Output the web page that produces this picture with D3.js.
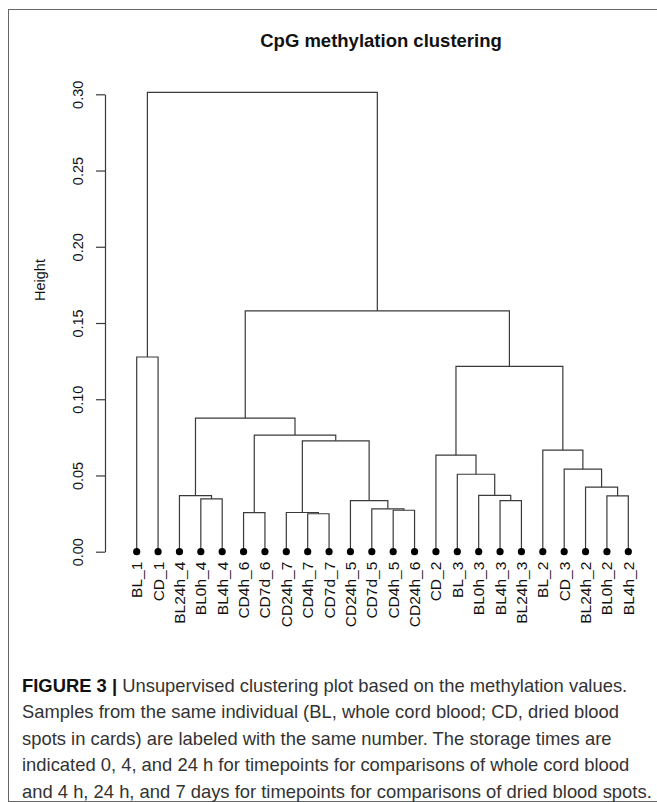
<!DOCTYPE html>
<meta charset="utf-8">
<script src="https://d3js.org/d3.v7.min.js"></script>
<style>
  body { margin: 0; background: #fff; }
  text { font-family: "Liberation Sans", Arial, sans-serif; }
</style>
<div id="chart"></div>
<script>

var width = 657, height = 802;

// leaf labels, left to right as drawn
var labels = ["BL_1", "CD_1", "BL24h_4", "BL0h_4", "BL4h_4", "CD4h_6", "CD7d_6",
  "CD24h_7", "CD4h_7", "CD7d_7", "CD24h_5", "CD7d_5", "CD4h_5", "CD24h_6",
  "CD_2", "BL_3", "BL0h_3", "BL4h_3", "BL24h_3", "BL_2", "CD_3", "BL24h_2", "BL0h_2", "BL4h_2"];

// hclust style merges: negative = leaf (1-based), positive = earlier merge step
var merges = [
  [-9, -10], [-6, -7], [-8, 1], [-13, -14], [-12, 4], [-11, 5], [-18, -19], [-4, -5],
  [-23, -24], [-3, 8], [-17, 7], [-22, 9], [-16, 11], [-21, 12], [-15, 13], [-20, 14],
  [3, 6], [2, 17], [10, 18], [15, 16], [-1, -2], [19, 20], [21, 22]
];
var mergeHeights = [
  0.0249, 0.0256, 0.0257, 0.0272, 0.0281, 0.0335, 0.0335, 0.0346,
  0.0366, 0.0368, 0.0370, 0.0423, 0.0508, 0.0541, 0.0633, 0.0666,
  0.0727, 0.0765, 0.0876, 0.1216, 0.1277, 0.1580, 0.3013
];

var yTicks = [0, 0.05, 0.10, 0.15, 0.20, 0.25, 0.30];

var title = "CpG methylation clustering";
var yLabel = "Height";

var svg = d3.select("#chart")
  .append("svg")
  .attr("width", width)
  .attr("height", height);

// figure frame
svg.append("rect")
  .attr("x", 8.5).attr("y", 9.5)
  .attr("width", 660).attr("height", 792)
  .attr("fill", "none")
  .attr("stroke", "#666")
  .attr("stroke-width", 1);

// build nested tree from the merge table
var steps = [];
merges.forEach(function(m, i) {
  var kids = m.map(function(k) {
    if (k < 0) return { name: labels[-k - 1], h: 0 };
    return steps[k - 1];
  });
  steps.push({ h: mergeHeights[i], children: kids });
});
var root = d3.hierarchy(steps[steps.length - 1]);

var x = d3.scalePoint()
  .domain(labels)
  .range([136.7, 628.3]);

var y = d3.scaleLinear()
  .domain([0, 0.30])
  .range([551.7, 94.3]);

// leaf x = label position, node x = midpoint of its children
root.eachAfter(function(d) {
  if (!d.children) d.px = x(d.data.name);
  else d.px = (d.children[0].px + d.children[1].px) / 2;
});

var links = root.descendants().filter(function(d) { return d.children; });

svg.append("g")
  .selectAll("path")
  .data(links)
  .join("path")
  .attr("fill", "none")
  .attr("stroke", "#3a3a3a")
  .attr("stroke-width", 1.2)
  .attr("d", function(d) {
    var a = d.children[0], b = d.children[1];
    return "M" + a.px + "," + y(a.data.h) + "V" + y(d.data.h) +
      "H" + b.px + "V" + y(b.data.h);
  });

// leaf dots
svg.append("g")
  .selectAll("circle")
  .data(root.leaves())
  .join("circle")
  .attr("cx", function(d) { return d.px; })
  .attr("cy", y(0))
  .attr("r", 3.6)
  .attr("fill", "#000");

// leaf labels
svg.append("g")
  .selectAll("text")
  .data(root.leaves())
  .join("text")
  .attr("transform", function(d) { return "translate(" + (d.px + 5.5) + "," + (y(0) + 10) + ") rotate(-90)"; })
  .attr("text-anchor", "end")
  .style("font-size", "15.5px")
  .attr("fill", "#111")
  .text(function(d) { return d.data.name; });

// y axis
var yAxis = svg.append("g")
  .attr("transform", "translate(105,0)")
  .call(d3.axisLeft(y).tickValues(yTicks).tickFormat(d3.format(".2f")).tickSize(9).tickSizeOuter(0));

yAxis.select(".domain").attr("stroke", "#3a3a3a").attr("stroke-width", 1.2);
yAxis.selectAll(".tick line").attr("stroke", "#3a3a3a").attr("stroke-width", 1.2);
yAxis.selectAll(".tick text")
  .attr("x", null).attr("dy", null)
  .attr("transform", "translate(-22,0) rotate(-90)")
  .attr("text-anchor", "middle")
  .style("font-size", "14.5px")
  .style("font-family", "Liberation Sans, Arial, sans-serif")
  .attr("fill", "#111");

svg.append("text")
  .attr("transform", "translate(45,280) rotate(-90)")
  .attr("text-anchor", "middle")
  .style("font-size", "14.5px")
  .attr("fill", "#111")
  .text(yLabel);

svg.append("text")
  .attr("x", 381)
  .attr("y", 47)
  .attr("text-anchor", "middle")
  .style("font-size", "18.5px")
  .style("font-weight", "bold")
  .attr("fill", "#111")
  .text(title);

// caption
var caption = [
  "Unsupervised clustering plot based on the methylation values.",
  "Samples from the same individual (BL, whole cord blood; CD, dried blood",
  "spots in cards) are labeled with the same number. The storage times are",
  "indicated 0, 4, and 24 h for timepoints for comparisons of whole cord blood",
  "and 4 h, 24 h, and 7 days for timepoints for comparisons of dried blood spots."
];

var cap = svg.append("g")
  .selectAll("text")
  .data(caption)
  .join("text")
  .attr("x", 22)
  .attr("y", function(d, i) { return 692 + i * 26.4; })
  .style("font-size", "18.4px")
  .attr("fill", "#333");

cap.each(function(d, i) {
  var t = d3.select(this);
  if (i == 0) {
    t.append("tspan").style("font-weight", "bold").attr("fill", "#111").text("FIGURE 3 | ");
  }
  t.append("tspan").text(d);
});

</script>
